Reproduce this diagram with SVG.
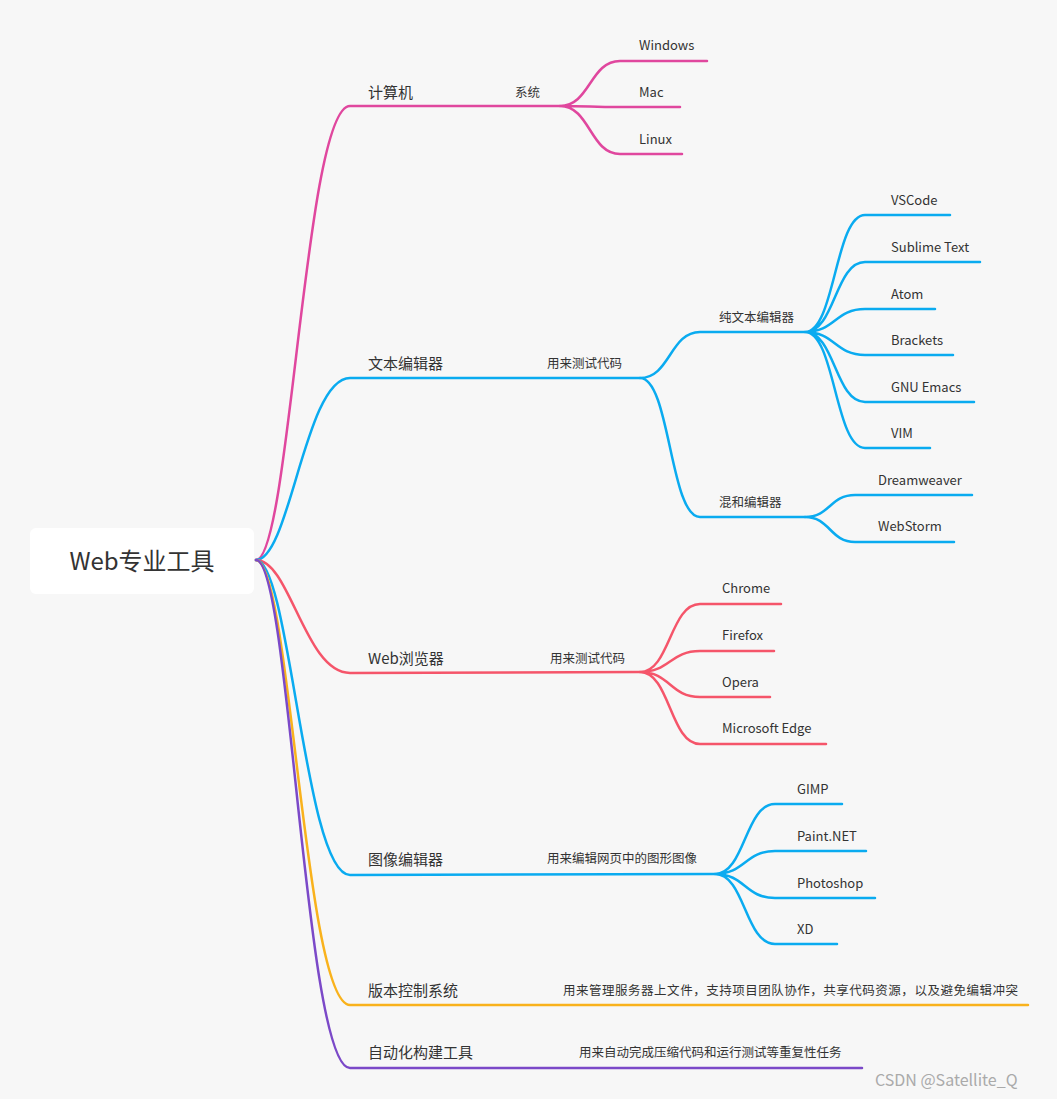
<svg xmlns="http://www.w3.org/2000/svg" width="1057" height="1099" viewBox="0 0 1057 1099">
<style>
.l{fill:none;stroke-width:2.5;stroke-linecap:round}
.pk{stroke:#e0479e}.bl{stroke:#0aabf0}.rd{stroke:#f5556a}.or{stroke:#f9b21c}.pu{stroke:#7b49c8}
text{font-family:"Noto Sans CJK SC","Noto Sans",sans-serif;fill:#333}
.b{font-size:15px}.s{font-size:12.5px}.f{font-size:13px}
</style>
<rect width="1057" height="1099" fill="#f7f7f7"/>
<g id="connectors">
<path class="l pk" d="M256,560 C290,560 305,106 350,106 L560,106"/>
<path class="l pk" d="M560,106 C590,106 590,61 620,61 L707,61 M560,106 C590,106 590,107 620,107 L680,107 M560,106 C590,106 590,154 620,154 L682,154"/>
<path class="l bl" d="M256,560 C290,560 305,378 350,378 L640,378"/>
<path class="l bl" d="M640,378 C670,378 670,332 700,332 L805,332 M640,378 C670,378 670,517 700,517 L805,517"/>
<path class="l bl" d="M805,332 C835,332 835,215 865,215 L950,215 M805,332 C835,332 835,262 865,262 L980,262 M805,332 C835,332 835,309 865,309 L935,309 M805,332 C835,332 835,355 865,355 L953,355 M805,332 C835,332 835,402 865,402 L974,402 M805,332 C835,332 835,448 865,448 L930,448"/>
<path class="l bl" d="M805,517 C830,517 830,495 855,495 L972,495 M805,517 C830,517 830,542 855,542 L954,542"/>
<path class="l rd" d="M256,560 C290,560 305,673 350,673 L640,672"/>
<path class="l rd" d="M640,672 C670,672 670,604 700,604 L781,604 M640,672 C670,672 670,651 700,651 L774,651 M640,672 C670,672 670,697 700,697 L770,697 M640,672 C670,672 670,744 700,744 L826,744"/>
<path class="l bl" d="M256,560 C290,560 305,875 350,875 L715,874"/>
<path class="l bl" d="M715,874 C745,874 745,804 775,804 L842,804 M715,874 C745,874 745,851 775,851 L866,851 M715,874 C745,874 745,898 775,898 L875,898 M715,874 C745,874 745,944 775,944 L837,944"/>
<path class="l or" d="M256,560 C290,560 305,1005 350,1005 L1028,1005"/>
<path class="l pu" d="M256,560 C290,560 305,1068 350,1068 L862,1068"/>
</g>
<g id="root"><rect x="30" y="528" width="224" height="66" rx="6" fill="#fff"/><text x="142" y="570" font-size="24" text-anchor="middle">Web专业工具</text></g>
<g id="n1"><text class="b" x="368" y="98">计算机</text><text class="s" x="515" y="97">系统</text>
<text class="f" x="639" y="50">Windows</text><text class="f" x="639" y="97">Mac</text><text class="f" x="639" y="144">Linux</text></g>
<g id="n2"><text class="b" x="368" y="369">文本编辑器</text><text class="s" x="547" y="368">用来测试代码</text>
<text class="s" x="719" y="322">纯文本编辑器</text><text class="s" x="719" y="507">混和编辑器</text>
<text class="f" x="891" y="205">VSCode</text><text class="f" x="891" y="252">Sublime Text</text><text class="f" x="891" y="299">Atom</text><text class="f" x="891" y="345">Brackets</text><text class="f" x="891" y="392">GNU Emacs</text><text class="f" x="891" y="438">VIM</text>
<text class="f" x="878" y="485">Dreamweaver</text><text class="f" x="878" y="531">WebStorm</text></g>
<g id="n3"><text class="b" x="368" y="664">Web浏览器</text><text class="s" x="550" y="663">用来测试代码</text>
<text class="f" x="722" y="593">Chrome</text><text class="f" x="722" y="640">Firefox</text><text class="f" x="722" y="687">Opera</text><text class="f" x="722" y="733">Microsoft Edge</text></g>
<g id="n4"><text class="b" x="368" y="865">图像编辑器</text><text class="s" x="547" y="863">用来编辑网页中的图形图像</text>
<text class="f" x="797" y="794">GIMP</text><text class="f" x="797" y="841">Paint.NET</text><text class="f" x="797" y="888">Photoshop</text><text class="f" x="797" y="934">XD</text></g>
<g id="n5"><text class="b" x="368" y="996">版本控制系统</text><text class="s" x="563" y="995" textLength="455">用来管理服务器上文件，支持项目团队协作，共享代码资源，以及避免编辑冲突</text></g>
<g id="n6"><text class="b" x="368" y="1058">自动化构建工具</text><text class="s" x="579" y="1057">用来自动完成压缩代码和运行测试等重复性任务</text></g>
<text x="875" y="1086" font-size="16" style="fill:#aaa">CSDN @Satellite_Q</text>
</svg>
